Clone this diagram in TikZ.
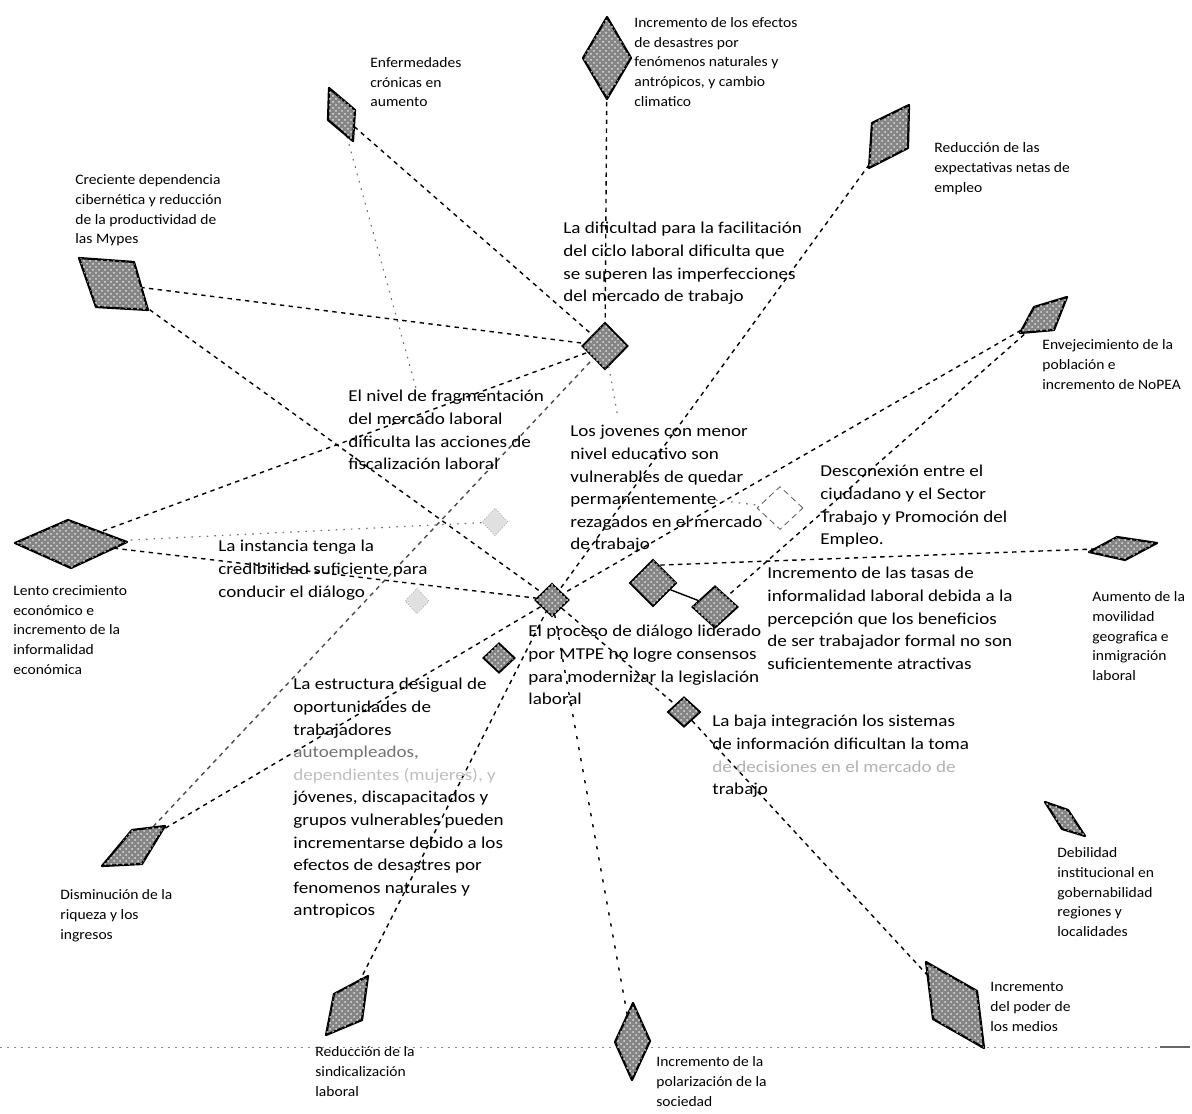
\documentclass[tikz,border=0pt]{standalone}
\usepackage{fontspec}
\setmainfont{Carlito}[FakeStretch=1.15]
\newfontfamily\trendfont{Carlito}[FakeStretch=1.08]
\usetikzlibrary{shapes.geometric, patterns, calc}

\begin{document}
\begin{tikzpicture}[
    x=0.5pt, y=-0.5pt,
    hyp/.style={diamond, draw=black, line width=0.9pt, fill=black!48, postaction={pattern=crosshatch dots, pattern color=black!12}, inner sep=0pt},
    ghost/.style={diamond, draw=black!35, densely dotted, fill=black!12, inner sep=0pt, minimum width=13pt, minimum height=14pt},
    hollow/.style={diamond, draw=black!65, densely dashed, fill=white, inner sep=0pt},
    trend/.style={draw=black, line width=1.1pt, line join=round, fill=black!48, postaction={pattern=crosshatch dots, pattern color=black!12}},
    cause/.style={anchor=north west, inner sep=0pt, align=left, font=\fontsize{8.3}{11.3}\selectfont},
    tlabel/.style={anchor=north west, inner sep=0pt, align=left, font=\trendfont\fontsize{7.2}{9.9}\selectfont},
    link/.style={line width=0.7pt, dash pattern=on 2.2pt off 2.2pt},
    faintlink/.style={line width=0.6pt, draw=black!55, dash pattern=on 0.8pt off 3pt},
    sparse/.style={line width=0.7pt, dash pattern=on 1.6pt off 4pt}
]
    \useasboundingbox (0,0) rectangle (1192,1113);

    % tendencias (centros)
    \coordinate (enf) at (341,115);
    \coordinate (des) at (607,58);
    \coordinate (exp) at (890,136);
    \coordinate (cre) at (114,284);
    \coordinate (env) at (1044,317);
    \coordinate (len) at (70,543);
    \coordinate (mov) at (1122,548);
    \coordinate (deb) at (1065,819);
    \coordinate (med) at (955,1005);
    \coordinate (pol) at (632,1041);
    \coordinate (sin) at (347,1006);
    \coordinate (dis) at (135,846);

    % variables
    \node[hyp, minimum width=23pt, minimum height=23.5pt] (dificultad) at (605,346) {};
    \node[hyp, minimum width=17pt, minimum height=16.5pt] (proceso) at (552,600) {};
    \node[hyp, minimum width=23.5pt, minimum height=23.5pt] (informalidad1) at (653,583) {};
    \node[hyp, minimum width=23pt, minimum height=21pt] (informalidad2) at (715,607) {};
    \node[hyp, minimum width=16.5pt, minimum height=15pt] (integracion) at (684,712) {};
    \node[hyp, minimum width=16pt, minimum height=15pt] (estructura) at (499,658) {};
    \node[ghost] (fragmentacion) at (495,522) {};
    \node[ghost, minimum width=12pt, minimum height=13pt] (instancia) at (417,601) {};
    \node[hollow, minimum width=23pt, minimum height=21.5pt] (desconexion) at (780,508) {};

    \coordinate (fragtop) at (417,392);
    \coordinate (jovenestop) at (618,418);
    \coordinate (jovenesend) at (716,500);

    % relaciones
    \draw[link] (enf) -- (dificultad);
    \draw[faintlink] (enf) -- (fragtop);
    \draw[link] (des) -- (dificultad);
    \draw[link] (cre) -- (dificultad);
    \draw[link] (cre) -- (proceso);
    \draw[link] (len) -- (dificultad);
    \draw[link] (len) -- (proceso);
    \draw[faintlink] (len) -- (fragmentacion);
    \draw[link] (exp) -- (proceso);
    \draw[link] (env) -- (proceso);
    \draw[link] (env) -- (informalidad2);
    \draw[link] (mov) -- (informalidad1.70);
    \draw[line width=0.7pt] (informalidad1) -- (informalidad2);
    \draw[faintlink] (jovenesend) -- (desconexion);
    \draw[faintlink] (dificultad) -- (jovenestop);
    \draw[link] (proceso) -- (integracion);
    \draw[link] (integracion) -- (med);
    \draw[sparse] (proceso) -- (pol);
    \draw[link] (sin) -- (proceso);
    \draw[link] (dis) -- (proceso);
    \draw[link, draw=black!70] (dis) -- (dificultad);

    % borde inferior de la hoja
    \coordinate (pagel) at (0,1047);
    \coordinate (pager) at (1160,1047);
    \coordinate (pagee) at (1190,1047);
    \draw[black!45, line width=0.5pt, dash pattern=on 1pt off 2.5pt] (pagel) -- (pager);
    \draw[black!60, line width=0.8pt] (pager) -- (pagee);

    % figuras de tendencias
    \path[trend] (329,88) -- (355,110) -- (353,141) -- (328,120) -- cycle;
    \path[trend] (607,17) -- (631,58) -- (607,99) -- (583,58) -- cycle;
    \path[trend] (872,123) -- (909,105) -- (908,148) -- (869,168) -- cycle;
    \path[trend] (79,258) -- (134,262) -- (148,310) -- (96,307) -- cycle;
    \path[trend] (1034,307) -- (1067,297) -- (1054,330) -- (1020,333) -- cycle;
    \path[trend] (15,543) -- (68,520) -- (127,542) -- (71,568) -- cycle;
    \path[trend] (1089,552) -- (1117,537) -- (1157,543) -- (1125,560) -- cycle;
    \path[trend] (1045,802) -- (1068,810) -- (1085,836) -- (1062,829) -- cycle;
    \path[trend] (926,962) -- (977,991) -- (984,1048) -- (933,1019) -- cycle;
    \path[trend] (633,1003) -- (650,1041) -- (632,1080) -- (615,1042) -- cycle;
    \path[trend] (334,994) -- (368,976) -- (362,1020) -- (326,1035) -- cycle;
    \path[trend] (132,830) -- (165,826) -- (142,864) -- (102,866) -- cycle;

    % textos de tendencias
    \node[tlabel] (enftxt) at (370,57) {Enfermedades\\crónicas en\\aumento};
    \node[tlabel] (destxt) at (634,17) {Incremento de los efectos\\de desastres por\\fenómenos naturales y\\antrópicos, y cambio\\climatico};
    \node[tlabel] (exptxt) at (934,142) {Reducción de las\\expectativas netas de\\empleo};
    \node[tlabel] (cretxt) at (75,174) {Creciente dependencia\\cibernética y reducción\\de la productividad de\\las Mypes};
    \node[tlabel] (envtxt) at (1042,339) {Envejecimiento de la\\población e\\incremento de NoPEA};
    \node[tlabel] (lentxt) at (13,585) {Lento crecimiento\\económico e\\incremento de la\\informalidad\\económica};
    \node[tlabel] (movtxt) at (1092,591) {Aumento de la\\movilidad\\geografica e\\inmigración\\laboral};
    \node[tlabel] (debtxt) at (1057,847) {Debilidad\\institucional en\\gobernabilidad\\regiones y\\localidades};
    \node[tlabel] (medtxt) at (990,982) {Incremento\\del poder de\\los medios};
    \node[tlabel] (poltxt) at (656,1056) {Incremento de la\\polarización de la\\sociedad};
    \node[tlabel] (sintxt) at (315,1046) {Reducción de la\\sindicalización\\laboral};
    \node[tlabel] (distxt) at (60,889) {Disminución de la\\riqueza y los\\ingresos};

    % textos de variables
    \node[cause] (dificultadtxt) at (563,222) {La dificultad para la facilitación\\del ciclo laboral dificulta que\\se superen las imperfecciones\\del mercado de trabajo};
    \node[cause] (fragtxt) at (348,390) {El nivel de fragmentación\\del mercado laboral\\dificulta las acciones de\\fiscalización laboral};
    \node[cause] (jovenestxt) at (570,425) {Los jovenes con menor\\nivel educativo son\\vulnerables de quedar\\permanentemente\\rezagados en el mercado\\de trabajo};
    \node[cause] (instanciatxt) at (218,540) {La instancia tenga la\\credibilidad suficiente para\\conducir el diálogo};
    \node[cause] (procesotxt) at (528,625) {El proceso de diálogo liderado\\por MTPE no logre consensos\\para modernizar la legislación\\laboral};
    \node[cause] (desconexiontxt) at (820,465) {Desconexión entre el\\ciudadano y el Sector\\Trabajo y Promoción del\\Empleo.};
    \node[cause] (informalidadtxt) at (767,567) {Incremento de las tasas de\\informalidad laboral debida a la\\percepción que los beneficios\\de ser trabajador formal no son\\suficientemente atractivas};
    \node[cause] (integraciontxt) at (712,715) {La baja integración los sistemas\\de información dificultan la toma\\{\color{black!30}de decisiones en el mercado de}\\trabajo};
    \node[cause] (estructuratxt) at (293,678) {La estructura desigual de\\oportunidades de\\trabajadores\\{\color{black!55}autoempleados,}\\{\color{black!25}dependientes (mujeres), y}\\jóvenes, discapacitados y\\grupos vulnerables pueden\\incrementarse debido a los\\efectos de desastres por\\fenomenos naturales y\\antropicos};
\end{tikzpicture}
\end{document}
